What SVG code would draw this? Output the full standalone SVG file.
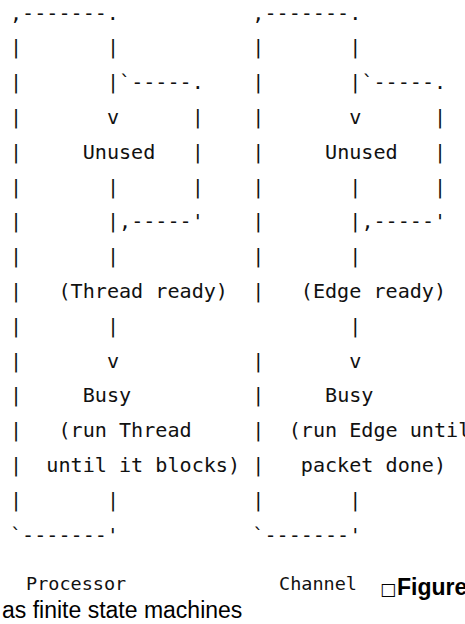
<svg xmlns="http://www.w3.org/2000/svg" width="465" height="624" viewBox="0 0 465 624">
  <style>
    .mono { font-family: "DejaVu Sans Mono", "Liberation Mono", monospace; font-size: 20.126px; fill: #111; }
    .small { font-family: "DejaVu Sans Mono", "Liberation Mono", monospace; font-size: 18.5px; fill: #111; }
    .cap { font-family: "Liberation Sans", Arial, sans-serif; font-size: 23px; fill: #000; }
    .capb { font-family: "Liberation Sans", Arial, sans-serif; font-size: 23px; font-weight: bold; fill: #000; }
    .box { font-family: "DejaVu Sans", sans-serif; font-size: 17px; fill: #000; }
  </style>
  <defs>
    <!-- One state-machine frame drawn in ASCII: column pitch 12.117, row pitch 34.8.
         Column 8 = 96.94, column 15 = 181.76 (relative to the frame's left column). -->
    <g id="fsm-frame">
      <text x="0" y="19.5">,-------.</text>
      <text x="0" y="54.3">|</text><text x="96.94" y="54.3">|</text>
      <text x="0" y="89.1">|</text><text x="96.94" y="89.1">|`-----.</text>
      <text x="0" y="123.9">|</text><text x="96.94" y="123.9">v</text><text x="181.76" y="123.9">|</text>
      <text x="0" y="158.7">|</text><text x="181.76" y="158.7">|</text>
      <text x="0" y="193.5">|</text><text x="96.94" y="193.5">|</text><text x="181.76" y="193.5">|</text>
      <text x="0" y="228.3">|</text><text x="96.94" y="228.3">|,-----'</text>
      <text x="0" y="263.1">|</text><text x="96.94" y="263.1">|</text>
      <text x="96.94" y="367.5">v</text>
      <text x="0" y="506.7">|</text><text x="96.94" y="506.7">|</text>
      <text x="0" y="541.5">`-------'</text>
    </g>
  </defs>
  <rect width="465" height="624" fill="#fff"/>

  <!-- Connectors: frames, loop-back paths and arrows -->
  <g id="connectors" class="mono">
    <use href="#fsm-frame" x="10"/>
    <use href="#fsm-frame" x="252.34"/>
    <!-- Processor left rail through the lower states -->
    <text x="10" y="297.9">|</text>
    <text x="10" y="332.7">|</text><text x="106.94" y="332.7">|</text>
    <text x="10" y="367.5">|</text>
    <text x="10" y="402.3">|</text>
    <text x="10" y="437.1">|</text>
    <text x="10" y="471.9">|</text>
    <!-- Channel left rail (broken at the ready row's next line) -->
    <text x="252.34" y="297.9">|</text>
    <text x="349.28" y="332.7">|</text>
    <text x="252.34" y="367.5">|</text>
    <text x="252.34" y="402.3">|</text>
    <text x="252.34" y="437.1">|</text>
    <text x="252.34" y="471.9">|</text>
  </g>

  <!-- Processor states -->
  <g id="processor-unused" class="mono"><text x="82.7" y="158.7">Unused</text></g>
  <g id="processor-ready" class="mono"><text x="58.47" y="297.9">(Thread ready)</text></g>
  <g id="processor-busy" class="mono">
    <text x="82.7" y="402.3">Busy</text>
    <text x="58.47" y="437.1">(run Thread</text>
    <text x="46.35" y="471.9">until it blocks)</text>
  </g>

  <!-- Channel states -->
  <g id="channel-unused" class="mono"><text x="325.04" y="158.7">Unused</text></g>
  <g id="channel-ready" class="mono"><text x="300.81" y="297.9">(Edge ready)</text></g>
  <g id="channel-busy" class="mono">
    <text x="325.04" y="402.3">Busy</text>
    <text x="288.69" y="437.1">(run Edge until</text>
    <text x="300.81" y="471.9">packet done)</text>
  </g>

  <!-- Machine names and caption -->
  <g id="labels">
    <text class="small" x="26" y="590">Processor</text>
    <text class="small" x="279" y="590">Channel</text>
    <text class="box" x="380" y="595">□</text>
    <text class="capb" x="397" y="595">Figure</text>
    <text class="cap" x="2" y="618">as finite state machines</text>
  </g>
</svg>
